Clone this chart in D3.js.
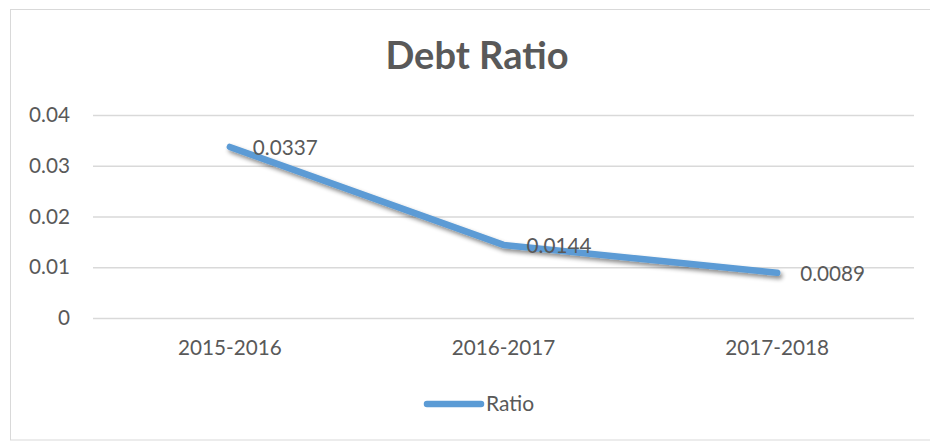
<!DOCTYPE html>
<html>
<head>
<meta charset="utf-8">
<script src="https://cdn.jsdelivr.net/npm/d3@7"></script>
<style>
html,body{margin:0;padding:0;background:#fff;}
svg{display:block;}
text{font-family:Lato,"Open Sans",sans-serif;fill:#595959;}
</style>
</head>
<body>
<svg id="chart" width="930" height="441"></svg>
<script>
const categories = ["2015-2016", "2016-2017", "2017-2018"];
const ratioValues = [0.0337, 0.0144, 0.0089];
const ratioLabels = ["0.0337", "0.0144", "0.0089"];
const yTicks = [0, 0.01, 0.02, 0.03, 0.04];
const yTickLabels = ["0", "0.01", "0.02", "0.03", "0.04"];
const seriesName = "Ratio";
const title = "Debt Ratio";

const svg = d3.select("#chart");
const W = 930, H = 441;
const margin = {left: 93, right: 16, top: 115, bottom: 123};
const fs = 20.7;

// outer border
svg.append("rect").attr("x", 10.5).attr("y", 9.5).attr("width", 930).attr("height", 430.5)
  .attr("fill", "none").attr("stroke", "#d9d9d9").attr("stroke-width", 1);

const x = d3.scaleBand().domain(categories).range([margin.left, W - margin.right]);
const y = d3.scaleLinear().domain([0, 0.04]).range([H - margin.bottom, margin.top]);

// shadow filter
const defs = svg.append("defs");
const f = defs.append("filter").attr("id", "shadow").attr("x", "-10%").attr("y", "-50%").attr("width", "130%").attr("height", "200%");
f.append("feDropShadow").attr("dx", 2).attr("dy", 3).attr("stdDeviation", 2.2).attr("flood-color", "#000").attr("flood-opacity", 0.45);

// gridlines
const yAxis = d3.axisLeft(y).tickValues(yTicks).tickFormat((d, i) => yTickLabels[i])
  .tickSize(-(W - margin.left - margin.right)).tickPadding(23);
const gy = svg.append("g").attr("transform", `translate(${margin.left},0)`).call(yAxis);
gy.select(".domain").remove();
gy.selectAll(".tick line").attr("stroke", "#d9d9d9").attr("stroke-width", 1.3);
gy.selectAll(".tick text").attr("font-size", fs).attr("fill", "#595959").style("font-family", "Lato, sans-serif");

// x axis labels
const xAxis = d3.axisBottom(x).tickSize(0).tickPadding(22);
const gx = svg.append("g").attr("transform", `translate(0,${y(0)})`).call(xAxis);
gx.select(".domain").remove();
gx.selectAll(".tick text").attr("font-size", fs).attr("fill", "#595959").style("font-family", "Lato, sans-serif");

// title
svg.append("text").attr("x", 477).attr("y", 69).attr("text-anchor", "middle")
  .attr("font-size", 38).attr("font-weight", "bold").text(title);

// line
const line = d3.line().x((d, i) => x(categories[i]) + x.bandwidth() / 2).y(d => y(d));
svg.append("path").datum(ratioValues).attr("d", line)
  .attr("fill", "none").attr("stroke", "#5b9bd5").attr("stroke-width", 6.5)
  .attr("stroke-linecap", "round").attr("stroke-linejoin", "round").attr("filter", "url(#shadow)");

// data labels
svg.selectAll(".dl").data(ratioValues).enter().append("text").attr("class", "dl")
  .attr("x", (d, i) => x(categories[i]) + x.bandwidth() / 2 + 23)
  .attr("y", d => y(d) + 1)
  .attr("dy", "0.35em").attr("font-size", fs).attr("fill", "#404040")
  .text((d, i) => ratioLabels[i]);

// legend
const lg = svg.append("g");
lg.append("line").attr("x1", 427).attr("x2", 481).attr("y1", 404).attr("y2", 404)
  .attr("stroke", "#5b9bd5").attr("stroke-width", 6.5).attr("stroke-linecap", "round");
lg.append("text").attr("x", 486).attr("y", 404).attr("dy", "0.35em").attr("font-size", 21).text(seriesName);
</script>
</body>
</html>
